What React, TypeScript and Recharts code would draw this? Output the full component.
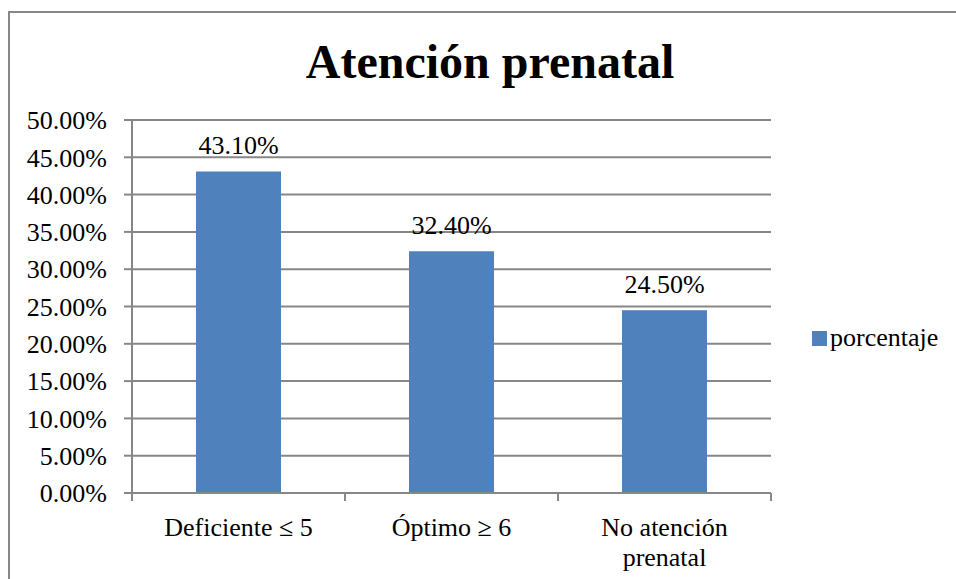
import { FC } from 'react';
import {
  Bar,
  BarChart,
  CartesianGrid,
  LabelList,
  XAxis,
  YAxis,
} from 'recharts';

const CATEGORIES = ['Deficiente ≤ 5', 'Óptimo ≥ 6', 'No atención\nprenatal'];
const PORCENTAJE = [43.1, 32.4, 24.5];
const Y_TICKS = [0, 5, 10, 15, 20, 25, 30, 35, 40, 45, 50];
const SERIES_NAME = 'porcentaje';
const TITLE = 'Atención prenatal';

const data = CATEGORIES.map((name, i) => ({ name, porcentaje: PORCENTAJE[i] }));

const W = 956;
const H = 579;
const FONT = '"Liberation Serif", "Times New Roman", serif';
const GRAY = '#878787';
const BLUE = '#4F81BD';

const margin = { top: 120, right: 185, bottom: 6, left: 12 };
const Y_AXIS_W = 120;
const X_AXIS_H = 80;
const PLOT_LEFT = margin.left + Y_AXIS_W;
const PLOT_W = W - PLOT_LEFT - margin.right;
const PLOT_BOTTOM = H - margin.bottom - X_AXIS_H;
const BAND = PLOT_W / CATEGORIES.length;

const pct = (v: number) => `${Number(v).toFixed(2)}%`;

const CategoryTick: FC<any> = ({ x, payload, index }) => {
  const lines = String(payload.value).split('\n');
  const last = index === CATEGORIES.length - 1;
  return (
    <g>
      <line x1={x - BAND / 2} x2={x - BAND / 2} y1={PLOT_BOTTOM} y2={PLOT_BOTTOM + 8} stroke={GRAY} strokeWidth={2} />
      {last && (
        <line x1={x + BAND / 2} x2={x + BAND / 2} y1={PLOT_BOTTOM} y2={PLOT_BOTTOM + 8} stroke={GRAY} strokeWidth={2} />
      )}
      <text textAnchor="middle" fontFamily={FONT} fontSize={26} fill="#000">
        {lines.map((l, i) => (
          <tspan key={i} x={x} y={PLOT_BOTTOM + 43 + i * 30}>
            {l}
          </tspan>
        ))}
      </text>
    </g>
  );
};

const App: FC = () => {
  return (
    <div style={{ position: 'absolute', left: 0, top: 0, width: W, height: H, overflow: 'hidden', background: '#fff' }}>
      <div
        style={{
          position: 'absolute',
          left: 8,
          top: 11,
          width: 1000,
          height: 1000,
          border: `2px solid ${GRAY}`,
        }}
      />
      <div
        style={{
          position: 'absolute',
          left: 0,
          top: 38,
          width: 980,
          textAlign: 'center',
          fontFamily: FONT,
          fontWeight: 'bold',
          fontSize: 48,
          lineHeight: '48px',
          color: '#000',
        }}
      >
        {TITLE}
      </div>
      <div style={{ position: 'absolute', left: 0, top: 0 }}>
        <BarChart width={W} height={H} data={data} margin={margin}>
          <CartesianGrid vertical={false} stroke={GRAY} strokeWidth={2} />
          <XAxis
            dataKey="name"
            height={X_AXIS_H}
            interval={0}
            axisLine={{ stroke: GRAY, strokeWidth: 2 }}
            tickLine={false}
            tick={<CategoryTick />}
          />
          <YAxis
            width={Y_AXIS_W}
            domain={[0, 50]}
            ticks={Y_TICKS}
            interval={0}
            tickFormatter={pct}
            tickSize={8}
            tickMargin={17}
            axisLine={{ stroke: GRAY, strokeWidth: 2 }}
            tickLine={{ stroke: GRAY, strokeWidth: 2 }}
            tick={{ fill: '#000', fontSize: 26, fontFamily: FONT }}
          />
          <Bar dataKey="porcentaje" name={SERIES_NAME} fill={BLUE} barSize={85} isAnimationActive={false}>
            <LabelList
              dataKey="porcentaje"
              position="top"
              offset={17}
              formatter={(v: any) => pct(v)}
              fill="#000"
              fontSize={26}
              fontFamily={FONT}
            />
          </Bar>
        </BarChart>
      </div>
      <div
        style={{
          position: 'absolute',
          left: 812,
          top: 325,
          fontFamily: FONT,
          fontSize: 26,
          lineHeight: '26px',
          whiteSpace: 'nowrap',
          color: '#000',
        }}
      >
        <span style={{ display: 'inline-block', width: 15, height: 15, background: BLUE, marginRight: 3 }} />
        {SERIES_NAME}
      </div>
    </div>
  );
};

export default App;
